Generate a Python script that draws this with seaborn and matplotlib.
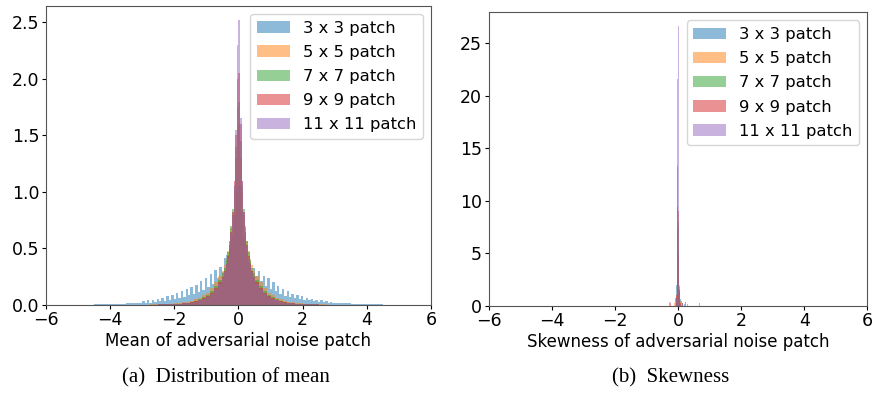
import numpy as np
import pandas as pd
import matplotlib
matplotlib.use("Agg")
import matplotlib.pyplot as plt
import matplotlib.patches as mpatches
import seaborn as sns

# ---------------- data ----------------
series_labels = ["3 x 3 patch", "5 x 5 patch", "7 x 7 patch", "9 x 9 patch", "11 x 11 patch"]
series_colors = ["#1f77b4", "#ff7f0e", "#2ca02c", "#d62728", "#9467bd"]

# bin edges for the mean histogram of the larger patches (tails coarse, centre fine)
mean_bin_edges = np.round(np.concatenate([
    np.arange(-5.0, -1.5, 0.25),
    np.arange(-1.5, -0.5, 0.125),
    np.arange(-0.5, 0.5, 0.05),
    np.arange(0.5, 1.5, 0.125),
    np.arange(1.5, 5.0001, 0.25),
]), 4)
mean_bin_centers = (mean_bin_edges[:-1] + mean_bin_edges[1:]) / 2

# the 3 x 3 histogram has its own, finer bins in [-3, 3]
mean_bin_edges_3x3 = np.round(np.concatenate([
    np.arange(-5.0, -3.0, 0.25),
    np.arange(-3.0, 3.0, 0.075),
    np.arange(3.0, 5.0001, 0.25),
]), 4)
mean_bin_centers_3x3 = (mean_bin_edges_3x3[:-1] + mean_bin_edges_3x3[1:]) / 2

mean_3x3 = [0.003, 0.004, 0.005, 0.006, 0.008, 0.011, 0.015, 0.02,
            0.035, 0.02, 0.04, 0.022, 0.045, 0.026, 0.055, 0.032, 0.065, 0.038,
            0.078, 0.045, 0.09, 0.055, 0.105, 0.065, 0.12, 0.075, 0.14, 0.09,
            0.16, 0.10, 0.18, 0.115, 0.21, 0.13, 0.24, 0.16, 0.27, 0.19,
            0.31, 0.24, 0.34, 0.29, 0.42, 0.44, 0.50, 0.62, 0.80, 1.00,
            1.05, 0.82, 0.60, 0.46, 0.38, 0.30, 0.33, 0.26, 0.30, 0.21,
            0.26, 0.17, 0.24, 0.14, 0.20, 0.12, 0.17, 0.10, 0.14, 0.08,
            0.12, 0.07, 0.10, 0.06, 0.09, 0.052, 0.08, 0.045, 0.065, 0.04,
            0.056, 0.032, 0.048, 0.027, 0.04, 0.023, 0.034, 0.019, 0.028, 0.016,
            0.018, 0.014, 0.01, 0.008, 0.006, 0.005, 0.004, 0.003]
mean_5x5 = [0.0001, 0.0002, 0.0004, 0.0006, 0.001, 0.0014, 0.002, 0.003, 0.004, 0.006, 0.009, 0.013, 0.019, 0.028,
            0.038, 0.05, 0.065, 0.085, 0.11, 0.15, 0.20, 0.26,
            0.30, 0.35, 0.41, 0.48, 0.57, 0.68, 0.80, 1.00, 1.30, 1.55, 1.60, 1.30, 1.00, 0.80, 0.68, 0.57, 0.48, 0.41, 0.35, 0.30,
            0.26, 0.20, 0.15, 0.11, 0.085, 0.065, 0.05, 0.038,
            0.028, 0.019, 0.013, 0.009, 0.006, 0.004, 0.003, 0.002, 0.0014, 0.001, 0.0006, 0.0004, 0.0002, 0.0001]
mean_7x7 = [0.0, 0.0001, 0.0002, 0.0004, 0.0006, 0.001, 0.0014, 0.002, 0.003, 0.004, 0.006, 0.009, 0.013, 0.02,
            0.028, 0.038, 0.05, 0.07, 0.09, 0.125, 0.17, 0.22,
            0.28, 0.33, 0.40, 0.47, 0.57, 0.70, 0.85, 1.05, 1.40, 1.75, 1.80, 1.45, 1.05, 0.85, 0.70, 0.57, 0.47, 0.40, 0.33, 0.28,
            0.22, 0.17, 0.125, 0.09, 0.07, 0.05, 0.038, 0.028,
            0.02, 0.013, 0.009, 0.006, 0.004, 0.003, 0.002, 0.0014, 0.001, 0.0006, 0.0004, 0.0002, 0.0001, 0.0]
mean_9x9 = [0.0, 0.0001, 0.0002, 0.0003, 0.0005, 0.0008, 0.0012, 0.0017, 0.0025, 0.0035, 0.005, 0.008, 0.011, 0.017,
            0.025, 0.033, 0.045, 0.06, 0.08, 0.11, 0.15, 0.20,
            0.25, 0.30, 0.36, 0.43, 0.53, 0.65, 0.82, 1.10, 1.50, 2.00, 2.05, 1.60, 1.10, 0.82, 0.65, 0.53, 0.43, 0.36, 0.30, 0.25,
            0.20, 0.15, 0.11, 0.08, 0.06, 0.045, 0.033, 0.025,
            0.017, 0.011, 0.008, 0.005, 0.0035, 0.0025, 0.0017, 0.0012, 0.0008, 0.0005, 0.0003, 0.0002, 0.0001, 0.0]
mean_11x11 = [0.0, 0.0001, 0.0002, 0.0003, 0.0005, 0.0008, 0.001, 0.0015, 0.002, 0.003, 0.005, 0.007, 0.01, 0.015,
              0.022, 0.03, 0.04, 0.055, 0.075, 0.10, 0.14, 0.19,
              0.24, 0.29, 0.35, 0.42, 0.52, 0.64, 0.80, 1.05, 1.55, 2.30, 2.52, 1.65, 1.10, 0.82, 0.64, 0.52, 0.42, 0.35, 0.29, 0.24,
              0.19, 0.14, 0.10, 0.075, 0.055, 0.04, 0.03, 0.022,
              0.015, 0.01, 0.007, 0.005, 0.003, 0.002, 0.0015, 0.001, 0.0008, 0.0005, 0.0003, 0.0002, 0.0001, 0.0]

# skewness histogram (bin width 0.02), sparse: values (bin centres) and heights
skew_bin_edges = np.round(np.arange(-0.8, 0.8001, 0.02), 4)
skew_x_3x3 = [-0.07, -0.05, -0.03, -0.01, 0.01, 0.03, 0.05, 0.07, 0.09, 0.11, 0.15, 0.21]
skew_h_3x3 = [0.8, 2.0, 3.8, 7.2, 5.0, 3.0, 1.8, 1.2, 0.7, 0.5, 0.3, 0.2]
skew_x_5x5 = [-0.11, -0.05, -0.03, -0.01, 0.01, 0.03, 0.05, 0.07, 0.09, 0.13, 0.19]
skew_h_5x5 = [0.3, 1.0, 2.2, 3.5, 4.5, 3.5, 2.0, 1.0, 0.5, 0.3, 0.3]
skew_x_7x7 = [-0.69, -0.05, -0.03, -0.01, 0.01, 0.03, 0.05, 0.07, 0.41, 0.69]
skew_h_7x7 = [0.3, 0.8, 2.5, 13.3, 8.0, 3.0, 1.2, 0.5, 0.3, 0.3]
skew_x_9x9 = [-0.23, -0.15, -0.05, -0.03, -0.01, 0.01, 0.03, 0.05, 0.07, 0.09, 0.15, 0.25]
skew_h_9x9 = [0.3, 0.3, 1.0, 3.0, 9.4, 9.0, 3.5, 1.5, 0.6, 0.3, 0.3, 0.4]
skew_x_11x11 = [-0.35, -0.27, -0.05, -0.03, -0.01, 0.01, 0.03, 0.05, 0.07, 0.09, 0.31]
skew_h_11x11 = [0.5, 0.4, 0.8, 2.5, 21.6, 26.6, 3.0, 1.0, 0.4, 0.2, 0.2]

mean_series = [(mean_bin_centers_3x3, mean_bin_edges_3x3, mean_3x3),
               (mean_bin_centers, mean_bin_edges, mean_5x5),
               (mean_bin_centers, mean_bin_edges, mean_7x7),
               (mean_bin_centers, mean_bin_edges, mean_9x9),
               (mean_bin_centers, mean_bin_edges, mean_11x11)]
skew_series = [(skew_x_3x3, skew_h_3x3), (skew_x_5x5, skew_h_5x5), (skew_x_7x7, skew_h_7x7),
               (skew_x_9x9, skew_h_9x9), (skew_x_11x11, skew_h_11x11)]

# ---------------- plot ----------------
plt.rcParams["font.family"] = ["DejaVu Sans"]
fig = plt.figure(figsize=(8.74, 3.94), dpi=100)
ax1 = fig.add_axes([0.0526, 0.2259, 0.4405, 0.7591])
ax2 = fig.add_axes([0.5590, 0.2234, 0.4333, 0.7454])

for (centers, edges, vals), col in zip(mean_series, series_colors):
    df = pd.DataFrame({"x": centers, "w": np.asarray(vals, dtype=float)})
    sns.histplot(data=df, x="x", weights="w", bins=[float(e) for e in edges], stat="count",
                 color=col, alpha=0.5, linewidth=0, ax=ax1)

skew_bins = [float(e) for e in skew_bin_edges]
for (xs, hs), col in zip(skew_series, series_colors):
    df = pd.DataFrame({"x": np.asarray(xs, dtype=float), "w": np.asarray(hs, dtype=float)})
    sns.histplot(data=df, x="x", weights="w", bins=skew_bins, stat="count",
                 color=col, alpha=0.5, linewidth=0, ax=ax2)

handles = [mpatches.Patch(facecolor=c, alpha=0.5, label=l) for c, l in zip(series_colors, series_labels)]

for ax, xlabel in [(ax1, "Mean of adversarial noise patch"), (ax2, "Skewness of adversarial noise patch")]:
    ax.set_xlim(-6, 6)
    ax.set_xticks([-6, -4, -2, 0, 2, 4, 6])
    ax.set_xlabel(xlabel, fontsize=12, labelpad=2)
    ax.set_ylabel("")
    ax.tick_params(labelsize=12.5, length=2.8, pad=1.8)
    ax.legend(handles=handles, loc="upper right", fontsize=11.8, labelspacing=0.56)
    for sp in ax.spines.values():
        sp.set_color("#555555")

ax1.set_yticks([0.0, 0.5, 1.0, 1.5, 2.0, 2.5])
ax1.set_yticklabels(["0.0", "0.5", "1.0", "1.5", "2.0", "2.5"])
ax2.set_yticks([0, 5, 10, 15, 20, 25])

fig.text(0.258, 0.04, "(a)  Distribution of mean", fontsize=15, family="Liberation Serif", ha="center", va="center")
fig.text(0.767, 0.04, "(b)  Skewness", fontsize=15, family="Liberation Serif", ha="center", va="center")

fig.savefig("out.png", dpi=100)
